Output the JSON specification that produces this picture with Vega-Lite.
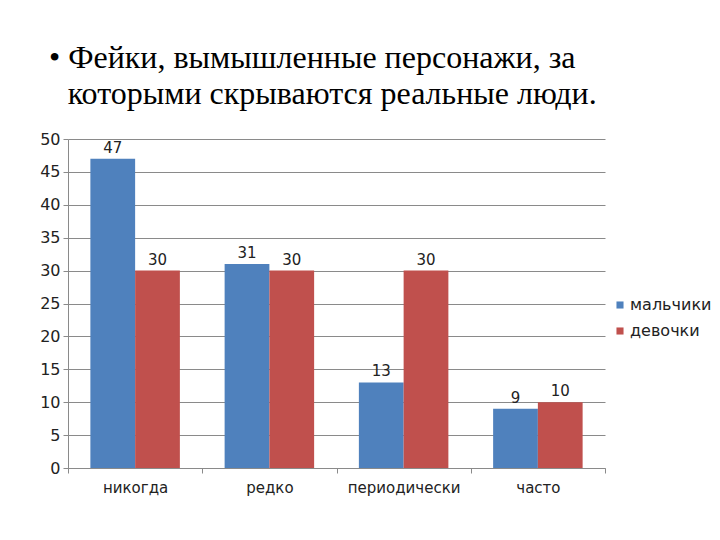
{
  "$schema": "https://vega.github.io/schema/vega-lite/v6.json",
  "width": 537,
  "height": 329,
  "autosize": "none",
  "padding": {"left": 68, "top": 139, "right": 115, "bottom": 72},
  "background": "white",
  "title": {
    "text": ["• Фейки, вымышленные персонажи, за", "\u200b\u2002\u200aкоторыми скрываются реальные люди."],
    "anchor": "start",
    "frame": "group",
    "font": "Liberation Serif",
    "fontSize": 32,
    "fontWeight": "normal",
    "color": "black",
    "lineHeight": 36,
    "dx": -19,
    "offset": 20
  },
  "data": {
    "values": [
      {"cat": "никогда", "group": "мальчики", "value": 47},
      {"cat": "никогда", "group": "девочки", "value": 30},
      {"cat": "редко", "group": "мальчики", "value": 31},
      {"cat": "редко", "group": "девочки", "value": 30},
      {"cat": "периодически", "group": "мальчики", "value": 13},
      {"cat": "периодически", "group": "девочки", "value": 30},
      {"cat": "часто", "group": "мальчики", "value": 9},
      {"cat": "часто", "group": "девочки", "value": 10}
    ]
  },
  "encoding": {
    "x": {
      "field": "cat",
      "type": "nominal",
      "sort": ["никогда", "редко", "периодически", "часто"],
      "scale": {"paddingInner": 0, "paddingOuter": 0},
      "axis": {
        "title": null,
        "labelAngle": 0,
        "tickBand": "extent",
        "tickSize": 5,
        "tickColor": "#8a8a8a",
        "domainColor": "#8a8a8a",
        "labelFont": "DejaVu Sans",
        "labelFontSize": 15,
        "labelColor": "#222222",
        "labelPadding": 7
      }
    },
    "xOffset": {
      "field": "group",
      "sort": ["мальчики", "девочки"],
      "scale": {"paddingOuter": 0.5, "paddingInner": 0}
    },
    "y": {
      "field": "value",
      "type": "quantitative",
      "scale": {"domain": [0, 50]},
      "axis": {
        "title": null,
        "values": [0, 5, 10, 15, 20, 25, 30, 35, 40, 45, 50],
        "grid": true,
        "gridColor": "#8a8a8a",
        "domainColor": "#8a8a8a",
        "tickColor": "#8a8a8a",
        "tickSize": 5,
        "labelFont": "DejaVu Sans",
        "labelFontSize": 16,
        "labelColor": "#222222",
        "labelPadding": 3
      }
    }
  },
  "layer": [
    {
      "mark": {"type": "bar"},
      "encoding": {
        "color": {
          "field": "group",
          "type": "nominal",
          "scale": {"domain": ["мальчики", "девочки"], "range": ["#4F81BD", "#C0504D"]},
          "legend": {
            "title": null,
            "orient": "none",
            "legendX": 544,
            "legendY": 158,
            "symbolType": "square",
            "symbolSize": 50,
            "symbolStrokeWidth": 0,
            "labelFont": "DejaVu Sans",
            "labelFontSize": 16,
            "labelColor": "#222222",
            "labelOffset": 2,
            "rowPadding": 10
          }
        }
      }
    },
    {
      "mark": {"type": "text", "baseline": "bottom", "dy": -3, "font": "DejaVu Sans", "fontSize": 15, "color": "#222222"},
      "encoding": {"text": {"field": "value", "type": "quantitative"}}
    }
  ],
  "config": {"view": {"stroke": null}}
}
